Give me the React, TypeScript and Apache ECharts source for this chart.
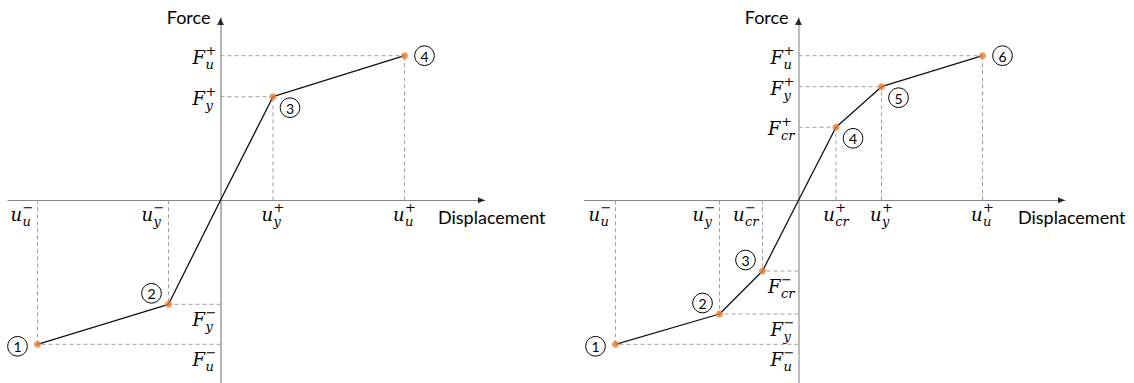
import React, { useEffect, useRef } from 'react';
import * as echarts from 'echarts';

// ---------- Data (schematic units) ----------
// Left panel: bilinear backbone
const leftPointIds = ['1', '2', '3', '4'];
const leftDisp = [-18.3, -5.2, 5.25, 18.4];
const leftForce = [-144, -104, 103.6, 144.6];
const leftDispSub = ['u', 'y', 'y', 'u'];
const leftForceSub = ['u', 'y', 'y', 'u'];
const leftBadgePlace = ['left', 'upperLeft', 'lowerRight', 'right'];

// Right panel: trilinear backbone
const rightPointIds = ['1', '2', '3', '4', '5', '6'];
const rightDisp = [-18.3, -7.9, -3.6, 3.75, 8.3, 18.4];
const rightForce = [-144, -113.7, -70.7, 73, 113.6, 144.6];
const rightDispSub = ['u', 'y', 'cr', 'cr', 'y', 'u'];
const rightForceSub = ['u', 'y', 'cr', 'cr', 'y', 'u'];
const rightBadgePlace = ['left', 'upperLeft', 'upperLeft', 'lowerRight', 'lowerRight', 'right'];

const axisTitles = ['Displacement', 'Force'];
const leftDispRange = [-21.25, 26.45];
const rightDispRange = [-21.4, 26.65];
const forceRange = [-182.7, 182.3];

// ---------- helpers ----------
const MATH_FONT = '"DejaVu Serif", "Liberation Serif", serif';
const SANS_FONT = 'Lato, "Open Sans", sans-serif';

let measureCtx: CanvasRenderingContext2D | null = null;
function textWidth(t: string, size: number, family: string, italic: boolean) {
  if (!measureCtx) measureCtx = document.createElement('canvas').getContext('2d');
  if (!measureCtx) return t.length * size * 0.55;
  measureCtx.font = `${italic ? 'italic ' : ''}${size}px ${family}`;
  return measureCtx.measureText(t).width;
}

function mathLabel(base: string, sub: string, sup: string, x: number, y: number, align: string) {
  const mainSize = 18;
  const scriptSize = 13;
  const wBase = textWidth(base, mainSize, MATH_FONT, true);
  const wSub = textWidth(sub, scriptSize, MATH_FONT, true);
  const wSup = textWidth(sup, scriptSize, MATH_FONT, false);
  const total = wBase + 0.5 + Math.max(wSub, wSup);
  const x0 = align === 'right' ? x - total : align === 'center' ? x - total / 2 : x;
  return [
    {
      type: 'text', x: x0, y,
      style: { text: base, fontSize: mainSize, fontFamily: MATH_FONT, fontStyle: 'italic', fill: '#000', align: 'left', verticalAlign: 'middle' },
    },
    {
      type: 'text', x: x0 + wBase + 0.5, y: y - 7,
      style: { text: sup, fontSize: scriptSize, fontFamily: MATH_FONT, fill: '#000', align: 'left', verticalAlign: 'middle' },
    },
    {
      type: 'text', x: x0 + wBase + 0.5, y: y + 7,
      style: { text: sub, fontSize: scriptSize, fontFamily: MATH_FONT, fontStyle: 'italic', fill: '#000', align: 'left', verticalAlign: 'middle' },
    },
  ];
}

const BADGE_OFFSET: Record<string, number[]> = {
  left: [-20, 2],
  upperLeft: [-17, -11],
  lowerRight: [17, 11],
  right: [20, 0],
};

interface Panel {
  ids: string[];
  disp: number[];
  force: number[];
  dispSub: string[];
  forceSub: string[];
  place: string[];
  xRange: number[];
}

const panels: Panel[] = [
  { ids: leftPointIds, disp: leftDisp, force: leftForce, dispSub: leftDispSub, forceSub: leftForceSub, place: leftBadgePlace, xRange: leftDispRange },
  { ids: rightPointIds, disp: rightDisp, force: rightForce, dispSub: rightDispSub, forceSub: rightForceSub, place: rightBadgePlace, xRange: rightDispRange },
];

function buildOption() {
  const grids = [
    { left: 8, top: 18, width: 477, bottom: 0 },
    { left: 584.5, top: 18, width: 480.5, bottom: 0 },
  ];
  const yAxisColors = [{ color: '#b4b4b4', width: 2 }, { color: '#a6a6a6', width: 1.5 }];
  const xAxes: any[] = [];
  const yAxes: any[] = [];
  const series: any[] = [];

  panels.forEach((p, gi) => {
    xAxes.push({
      type: 'value', gridIndex: gi, min: p.xRange[0], max: p.xRange[1],
      axisLine: { show: true, onZero: true, lineStyle: { color: '#858585', width: 1.2 } },
      axisTick: { show: false }, axisLabel: { show: false }, splitLine: { show: false },
    });
    yAxes.push({
      type: 'value', gridIndex: gi, min: forceRange[0], max: forceRange[1],
      axisLine: { show: true, onZero: true, lineStyle: yAxisColors[gi] },
      axisTick: { show: false }, axisLabel: { show: false }, splitLine: { show: false },
    });

    const pts = p.disp.map((u, i) => [u, p.force[i]]);
    const neg = pts.filter((q) => q[0] < 0);
    const pos = pts.filter((q) => q[0] > 0);
    const backbone = [...neg, [0, 0], ...pos];

    // dashed guides
    series.push({
      type: 'custom', xAxisIndex: gi, yAxisIndex: gi, silent: true, z: 1,
      data: pts,
      renderItem: (params: any, api: any) => {
        const u = api.value(0);
        const f = api.value(1);
        const c = api.coord([u, f]);
        const cx = api.coord([u, 0]);
        const cy = api.coord([0, f]);
        const st = { stroke: '#a0a0a0', lineWidth: 1, lineDash: [4, 3], fill: null };
        return {
          type: 'group',
          children: [
            { type: 'line', shape: { x1: cx[0], y1: cx[1], x2: c[0], y2: c[1] }, style: st },
            { type: 'line', shape: { x1: cy[0], y1: cy[1], x2: c[0], y2: c[1] }, style: st },
          ],
        };
      },
    });

    // backbone line
    series.push({
      type: 'line', xAxisIndex: gi, yAxisIndex: gi, data: backbone, silent: true, z: 3,
      symbol: 'none', showSymbol: false,
      lineStyle: { color: '#111', width: 1.3 },
    });

    // key points
    series.push({
      type: 'scatter', xAxisIndex: gi, yAxisIndex: gi, data: pts, silent: true, z: 4,
      symbol: 'circle', symbolSize: 7, itemStyle: { color: '#ED7D31' },
    });

    // axis arrows
    series.push({
      type: 'scatter', xAxisIndex: gi, yAxisIndex: gi, silent: true, z: 5,
      symbol: 'triangle',
      data: [
        { value: [p.xRange[1], 0], symbolRotate: -90, symbolOffset: [-3.5, 0], symbolSize: [6, 7] },
        { value: [0, forceRange[1]], symbolRotate: 0, symbolOffset: [0, 3.5], symbolSize: [7, 7] },
      ],
      itemStyle: { color: '#000' },
    });

    // tick labels (math)
    series.push({
      type: 'custom', xAxisIndex: gi, yAxisIndex: gi, silent: true, z: 6,
      data: pts,
      renderItem: (params: any, api: any) => {
        const i = params.dataIndex;
        const u = api.value(0);
        const f = api.value(1);
        const cx = api.coord([u, 0]);
        const cy = api.coord([0, f]);
        const sign = u > 0 ? '+' : '\u2212';
        const xl = u > 0
          ? mathLabel('u', p.dispSub[i], sign, cx[0], cx[1] + 14, 'center')
          : mathLabel('u', p.dispSub[i], sign, cx[0] - 4, cx[1] + 14, 'right');
        const fsign = f > 0 ? '+' : '\u2212';
        const yl = f > 0
          ? mathLabel('F', p.forceSub[i], fsign, cy[0] - 4, cy[1] + 1.5, 'right')
          : mathLabel('F', p.forceSub[i], fsign, cy[0] - 4, cy[1] + 15, 'right');
        return { type: 'group', children: [...xl, ...yl] };
      },
    });

    // circled point numbers
    series.push({
      type: 'custom', xAxisIndex: gi, yAxisIndex: gi, silent: true, z: 7,
      data: pts,
      renderItem: (params: any, api: any) => {
        const i = params.dataIndex;
        const c = api.coord([api.value(0), api.value(1)]);
        const off = BADGE_OFFSET[p.place[i]];
        const x = c[0] + off[0];
        const y = c[1] + off[1];
        return {
          type: 'group',
          children: [
            { type: 'circle', shape: { cx: x, cy: y, r: 9.8 }, style: { fill: '#fff', stroke: '#000', lineWidth: 1 } },
            {
              type: 'text', x, y: y + 0.5,
              style: { text: p.ids[i], fontSize: 14, fontFamily: SANS_FONT, fill: '#000', align: 'center', verticalAlign: 'middle' },
            },
          ],
        };
      },
    });

    // axis titles
    series.push({
      type: 'custom', xAxisIndex: gi, yAxisIndex: gi, silent: true, z: 7,
      data: [[p.xRange[1], 0], [0, forceRange[1]]],
      renderItem: (params: any, api: any) => {
        const i = params.dataIndex;
        const c = api.coord([api.value(0), api.value(1)]);
        if (i === 0) {
          return {
            type: 'text', x: c[0] - 47, y: c[1] + 17,
            style: { text: axisTitles[0], fontSize: 18, fontFamily: SANS_FONT, fill: '#000', align: 'left', verticalAlign: 'middle' },
          };
        }
        return {
          type: 'text', x: c[0] - 10, y: c[1] - 1,
          style: { text: axisTitles[1], fontSize: 18, fontFamily: SANS_FONT, fill: '#000', align: 'right', verticalAlign: 'middle' },
        };
      },
    });
  });

  return {
    animation: false,
    backgroundColor: '#ffffff',
    grid: grids,
    xAxis: xAxes,
    yAxis: yAxes,
    series,
  };
}

export default function App() {
  const ref = useRef<HTMLDivElement>(null);
  useEffect(() => {
    if (!ref.current) return;
    const chart = echarts.init(ref.current, undefined, { renderer: 'svg' });
    chart.setOption(buildOption() as any);
    return () => chart.dispose();
  }, []);
  return (
    <div
      ref={ref}
      style={{ position: 'fixed', left: 0, top: 0, width: 1134, height: 383, background: '#fff' }}
    />
  );
}
